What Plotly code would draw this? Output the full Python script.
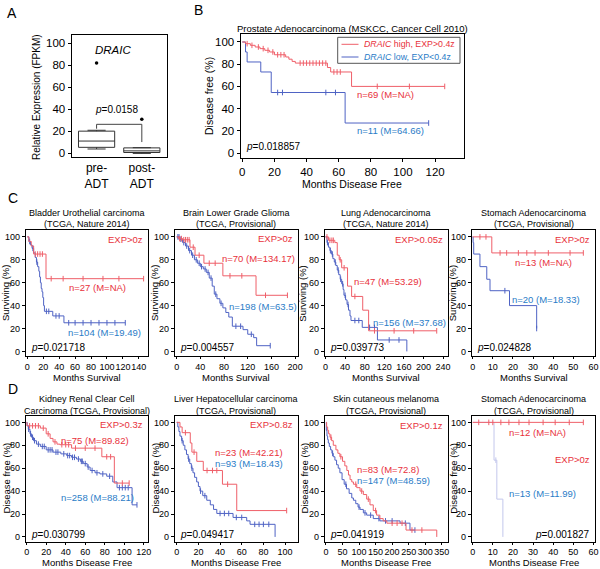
import plotly.graph_objects as go
import numpy as np

W, H = 600, 569
FONT = "Liberation Sans, Arial, sans-serif"
RED_LINE = "#ef5f69"
BLUE_LINE = "#4f63c4"
BLUE_PALE = "#c3c7ec"
RED_TXT = "#e8313b"
BLUE_TXT = "#2a7cc7"

# ---------------- Panel A: DRAIC expression (FPKM) ----------------
a_groups = ["pre-<br>ADT", "post-<br>ADT"]
a_lowerfence = [4.0, 0.0]
a_q1 = [5.5, 0.8]
a_median = [11.2, 2.3]
a_q3 = [20.2, 5.0]
a_upperfence = [21.0, 5.2]
a_outliers = [82.0, 31.0]
a_bracket_x = [0, 0, 1, 1]
a_bracket_y = [22.4, 26.4, 26.4, 10.3]

# ---------------- Panel B: Prostate (MSKCC) ----------------
b_hi_t = [0, 2, 5, 8, 11, 14, 17, 20, 27, 29, 31, 33, 53, 55, 68, 126]
b_hi_s = [100, 98.5, 97, 95.5, 94, 92.5, 91, 88.5, 86.5, 84.5, 82.5, 81, 77, 73, 60, 60]
b_hi_c = [3, 6, 10, 13, 16, 19, 22, 24, 26, 36, 38, 40, 42, 44, 46, 48, 50, 52, 57, 59, 61, 84, 104, 126]
b_lo_t = [0, 2, 3, 11.5, 18, 64, 116]
b_lo_s = [100, 91, 82, 73, 54.5, 27, 27]
b_lo_c = [22, 25, 52, 58, 116]

# ---------------- Panel C: overall survival ----------------
c1_hi_t = [0, 2, 5, 8, 23.5, 146]
c1_hi_s = [100, 96, 92, 85, 63.5, 63.5]
c1_hi_c = [10, 13, 16, 19, 30, 45, 70, 95, 115, 146]
c1_lo_t = [0, 2, 4, 6, 8, 10, 11.5, 13, 14.5, 15.5, 16.5, 17.5, 18.5, 19.5, 20.5, 21.5, 32, 46, 123]
c1_lo_s = [100, 96, 93, 90, 86, 82, 78, 74, 70, 65, 60, 55, 52, 47, 40, 35, 31, 25, 25]
c1_lo_c = [3, 7, 12, 24, 27, 36, 40, 52, 60, 70, 80, 90, 100, 110, 123]

c2_hi_t = [0, 3, 10, 22.5, 31, 46, 78, 134, 187]
c2_hi_s = [100, 98.5, 97.5, 91, 84, 77, 66, 49, 49]
c2_hi_c = [5, 8, 12, 15, 18, 21, 28, 38, 55, 65, 90, 110, 150, 187]
c2_lo_t = [0, 5, 10, 15, 20, 25, 30, 35, 40, 45, 50, 55, 60, 63.5, 68, 73, 78, 83, 88, 94, 112, 120, 130, 135, 158]
c2_lo_s = [100, 98, 95, 92, 88, 84, 80, 77, 74, 72, 69, 64, 57, 50, 46, 42, 38, 34, 30, 22, 19, 15, 12, 5, 5]
c2_lo_c = [2, 4, 7, 12, 17, 22, 27, 33, 38, 42, 48, 53, 58, 66, 75, 100, 108, 126, 158]

c3_hi_t = [0, 6, 19, 24, 28, 33, 45, 53.3, 76, 88, 227]
c3_hi_s = [100, 97, 95, 84, 80, 73, 57, 48, 36, 18, 18]
c3_hi_c = [3, 9, 13, 16, 30, 38, 60, 100, 140, 180, 227]
c3_lo_t = [0, 3, 6, 9, 12, 15, 18, 21, 24, 27, 30, 33, 36, 37.7, 41, 44, 47, 50, 52, 75, 106, 166]
c3_lo_s = [100, 95, 91, 88, 85, 81, 78, 75, 71, 67, 63, 59, 54, 49, 45, 41, 36, 31, 27, 21, 10, 0]
c3_lo_c = [4, 10, 14, 20, 26, 31, 35, 40, 46, 60, 68, 90, 100, 130, 150]

c4_hi_t = [0, 9.5, 55]
c4_hi_s = [100, 86, 86]
c4_hi_c = [3.6, 6.6, 13.6, 16.9, 22.7, 26.9, 31, 37.6, 48.4, 55]
c4_lo_t = [0, 0.2, 0.5, 3.6, 7, 8.6, 18.3, 31.8]
c4_lo_s = [100, 95, 85, 74, 63, 53, 40, 20]
c4_lo_c = [16, 31.8]

# ---------------- Panel D: disease-free survival ----------------
d1_hi_t = [0, 0.3, 14, 20, 24, 27, 31, 34, 46, 77, 89.8, 105]
d1_hi_s = [100, 97, 95, 90, 86, 83, 81, 80.5, 77.5, 70, 47, 47]
d1_hi_c = [3, 6, 9, 12, 17, 22, 29, 36, 40, 43, 50, 60, 70, 82, 86, 98, 105]
d1_lo_t = [0, 0.5, 1.7, 3.4, 5, 7, 10, 14, 20, 27, 35, 41, 46, 51, 55, 58, 62, 65, 70, 75, 82, 88.2, 92.6, 108, 113]
d1_lo_s = [100, 97, 94, 90, 87, 84, 81, 79, 76, 74, 72.5, 71, 69.5, 68, 66, 64, 61, 58, 56, 55, 53, 48, 43, 28, 28]
d1_lo_c = [2, 4, 6, 8, 12, 16, 18, 22, 24, 26, 30, 32, 38, 42, 44, 47, 49, 53, 56, 57, 60, 63, 67, 72, 78, 85, 95, 98, 101, 104, 113]

d2_hi_t = [0, 3, 5, 12.5, 14, 18.5, 24.5, 42.2, 55.4, 101.5]
d2_hi_s = [100, 96, 91, 82, 74, 66, 58, 46, 23, 23]
d2_hi_c = [8, 16, 28, 33, 37, 47, 101.5]
d2_lo_t = [0, 1, 2, 3, 4.5, 6, 7.5, 9, 10.5, 12, 13.5, 15, 16.5, 18.4, 20, 21.5, 24, 27.7, 31, 34, 37, 52, 64.6, 67.7, 90.8]
d2_lo_s = [100, 96, 92, 88, 84, 80, 76, 72, 68, 64, 60, 56, 52, 48, 44, 40, 36, 32, 28, 24, 20.5, 17, 14, 11, 0]
d2_lo_c = [5, 11, 14, 22, 26, 40, 44, 48, 55, 60, 72, 76, 80, 85]

d3_hi_t = [0, 2, 5, 8, 12, 17, 22, 30, 36, 42, 50, 57, 63, 68, 72.8, 78, 83, 93, 103, 113, 123, 133, 143, 153, 163, 173, 184, 242, 335]
d3_hi_s = [100, 96, 93, 90, 87, 84, 80, 76, 73, 70, 66, 62, 58, 54, 50, 48, 46, 43, 40, 37, 33, 28, 23, 19, 16, 14, 12, 6, 0]
d3_hi_c = [15, 45, 90, 108, 128, 150, 200, 215, 230, 260, 290]
d3_lo_t = [0, 1, 3, 5, 7, 10, 14, 18, 22, 27, 32, 37, 42, 48.6, 55, 62, 70, 78, 83, 90, 97, 103, 113, 123, 143, 163, 224, 254, 269]
d3_lo_s = [100, 93, 88, 85, 82, 79, 76, 73, 70, 67, 63, 60, 56, 50, 46, 42, 38, 34, 32, 29, 26, 24, 21, 19, 16, 14, 12, 6, 6]
d3_lo_c = [20, 60, 100, 118, 135, 160, 180, 200, 240, 269]

d4_hi_t = [0, 55]
d4_hi_s = [100, 100]
d4_hi_c = [3, 8, 10, 14, 18, 23, 28, 35, 41, 48, 55]
d4_lo_t = [0, 10.6, 12, 15]
d4_lo_s = [100, 67, 33, 0]
d4_lo_c = [11.5]


def xp(px):
    return px / W


def yp(py):
    return 1 - py / H


def surv_at(t, s, x):
    t = np.asarray(t, float)
    s = np.asarray(s, float)
    idx = np.searchsorted(t, np.asarray(x, float), side="right") - 1
    return s[np.clip(idx, 0, len(s) - 1)].tolist()


fig = go.Figure()
layout = dict(
    width=W, height=H, margin=dict(l=0, r=0, t=0, b=0),
    paper_bgcolor="white", plot_bgcolor="white", showlegend=False,
    font=dict(family=FONT, color="black"),
)
annotations = []
shapes = []


def axis_common(dom, rng, tickfont, ticks=True, ticklen=3):
    return dict(domain=dom, range=rng, showline=True, mirror=True, linecolor="black",
                linewidth=1.3, showgrid=False, zeroline=False,
                ticks="outside" if ticks else "", ticklen=ticklen, tickwidth=1, tickcolor="black",
                tickangle=0,
                tickfont=dict(size=tickfont, family=FONT, color="black"), automargin=False,
                fixedrange=True)


def text(x, y, s, size, color="black", xref="paper", yref="paper", xanchor="center",
         yanchor="middle", angle=0):
    annotations.append(dict(x=x, y=y, xref=xref, yref=yref, text=s, showarrow=False,
                            xanchor=xanchor, yanchor=yanchor, textangle=angle,
                            font=dict(size=size, color=color, family=FONT)))


# ---------------- Panel A ----------------
A = (71.7, 35, 166.7, 156.7)
layout["xaxis"] = axis_common([xp(A[0]), xp(A[2])], [-0.55, 1.55], 12, ticks=False)
layout["xaxis"].update(tickvals=[0, 1], ticktext=a_groups)
layout["yaxis"] = axis_common([yp(A[3]), yp(A[1])], [-3, 107.5], 11.5)
layout["yaxis"].update(tickvals=[0, 20, 40, 60, 80, 100])
for i in range(2):
    fig.add_trace(go.Box(x=[i], q1=[a_q1[i]], median=[a_median[i]], q3=[a_q3[i]],
                         lowerfence=[a_lowerfence[i]], upperfence=[a_upperfence[i]],
                         width=0.8, whiskerwidth=0.5, fillcolor="white",
                         line=dict(color="#333333", width=1), xaxis="x", yaxis="y",
                         hoverinfo="skip", boxpoints=False))
fig.add_trace(go.Scatter(x=[0, 1], y=a_outliers, mode="markers", xaxis="x", yaxis="y",
                         marker=dict(size=3.5, color="black"), hoverinfo="skip"))
fig.add_trace(go.Scatter(x=a_bracket_x, y=a_bracket_y, mode="lines", xaxis="x", yaxis="y",
                         line=dict(color="#444444", width=1), hoverinfo="skip"))
text(0.45, 39.5, "<i>p</i>=0.0158", 10, xref="x", yref="y")
text(0.36, 94, "<i>DRAIC</i>", 11.5, xref="x", yref="y")
text(xp(36), yp(97), "Relative Expression (FPKM)", 10, angle=-90)
text(xp(12), yp(12.5), "A", 14)

# ---------------- KM panels ----------------
COLS = [(26, 148), (175, 297.5), (325, 447.5), (472, 595)]
ROW_C = (230, 356)
ROW_D = (415.5, 541.5)
YR = [-4, 106]

panels = [
    dict(ax=2, frame=(240.7, 34, 464, 158), xr=[-1, 138], yr=[-4.5, 107.2], dt=20, tick=11.5,
         xtl=3, hi=(b_hi_t, b_hi_s, b_hi_c), lo=(b_lo_t, b_lo_s, b_lo_c), lo_col=BLUE_LINE,
         title=["Prostate Adenocarcinoma (MSKCC, Cancer Cell 2010)"], ty=[29], tsize=9.5,
         ylab="Disease free (%)", ylx=209, xlab="Months Disease Free", xly=183.5, labsize=10.5,
         nhi=("n=69 (M=NA)", 70, 52.8, "left"), nlo=("n=11 (M=64.66)", 70, 20, "left"),
         nsize=9.5, p=("0.018857", "left", 6), psize=10, exp=None),
]
ctitles = [["Bladder Urothelial carcinoma", "(TCGA, Nature 2014)"],
           ["Brain Lower Grade Glioma", "(TCGA, Provisional)"],
           ["Lung Adenocarcinoma", "(TCGA, Nature 2014)"],
           ["Stomach Adenocarcinoma", "(TCGA, Provisional)"]]
dtitles = [["Kidney Renal Clear Cell", "Carcinoma (TCGA, Provisional)"],
           ["Liver Hepatocellular carcinoma", "(TCGA, Provisional)"],
           ["Skin cutaneous melanoma", "(TCGA, Provisional)"],
           ["Stomach Adenocarcinoma", "(TCGA, Provisional)"]]
c_data = [((c1_hi_t, c1_hi_s, c1_hi_c), (c1_lo_t, c1_lo_s, c1_lo_c)),
          ((c2_hi_t, c2_hi_s, c2_hi_c), (c2_lo_t, c2_lo_s, c2_lo_c)),
          ((c3_hi_t, c3_hi_s, c3_hi_c), (c3_lo_t, c3_lo_s, c3_lo_c)),
          ((c4_hi_t, c4_hi_s, c4_hi_c), (c4_lo_t, c4_lo_s, c4_lo_c))]
d_data = [((d1_hi_t, d1_hi_s, d1_hi_c), (d1_lo_t, d1_lo_s, d1_lo_c)),
          ((d2_hi_t, d2_hi_s, d2_hi_c), (d2_lo_t, d2_lo_s, d2_lo_c)),
          ((d3_hi_t, d3_hi_s, d3_hi_c), (d3_lo_t, d3_lo_s, d3_lo_c)),
          ((d4_hi_t, d4_hi_s, d4_hi_c), (d4_lo_t, d4_lo_s, d4_lo_c))]
c_xr = [[-1.6, 151.5], [-2.8, 204], [-1, 249], [-0.35, 60.8]]
d_xr = [[-0.7, 124.3], [-1.6, 111.5], [-3, 367.5], [-0.35, 60.8]]
c_dt = [20, 40, 40, 10]
d_dt = [20, 20, 50, 10]
c_ylx = [6, 155, 302.7, 453.3]
d_ylx = [6, 155, 304, 453.3]
c_exp = ["EXP&gt;0z", "EXP&gt;0z", "EXP&gt;0.05z", "EXP&gt;0z"]
d_exp = ["EXP&gt;0.3z", "EXP&gt;0.8z", "EXP&gt;0.1z", "EXP&gt;0z"]
c_exp_y = [97.7, 98.5, 98, 98]
d_exp_y = [98, 98, 97.7, 68]
c_nhi = [("n=27 (M=NA)", 88, 56, "center"), ("n=70 (M=134.17)", 73, 81, "left"),
         ("n=47 (M=53.29)", 55, 61, "left"), ("n=13 (M=NA)", 20.2, 78, "left")]
c_nlo = [("n=104 (M=19.49)", 96.5, 16.5, "center"), ("n=198 (M=63.5)", 85, 39, "left"),
         ("n=156 (M=37.68)", 93, 25, "left"), ("n=20 (M=18.33)", 18.6, 45.5, "left")]
d_nhi = [("n=75 (M=89.82)", 32.6, 84, "left"), ("n=23 (M=42.21)", 33.8, 74, "left"),
         ("n=83 (M=72.8)", 87.8, 59, "left"), ("n=12 (M=NA)", 16.9, 91, "left")]
d_nlo = [("n=258 (M=88.21)", 32.6, 34.8, "left"), ("n=93 (M=18.43)", 33.8, 64, "left"),
         ("n=147 (M=48.59)", 87.8, 49, "left"), ("n=13 (M=11.99)", 16.9, 37.6, "left")]
c_p = ["0.021718", "0.004557", "0.039773", "0.024828"]
d_p = ["0.030799", "0.049417", "0.041919", "0.001827"]

for j in range(4):
    panels.append(dict(ax=3 + j, frame=(COLS[j][0], ROW_C[0], COLS[j][1], ROW_C[1]),
                       xr=c_xr[j], yr=YR, dt=c_dt[j], tick=9, xtl=2,
                       hi=c_data[j][0], lo=c_data[j][1], lo_col=BLUE_LINE,
                       title=ctitles[j], ty=[212.5, 223.5], tsize=9,
                       ylab="Surviving (%)", ylx=c_ylx[j], xlab="Months Survival", xly=377.5,
                       labsize=9.5, nhi=c_nhi[j], nlo=c_nlo[j], nsize=9.5,
                       p=(c_p[j], "left", 3.5), psize=10, exp=(c_exp[j], c_exp_y[j])))
for j in range(4):
    panels.append(dict(ax=7 + j, frame=(COLS[j][0], ROW_D[0], COLS[j][1], ROW_D[1]),
                       xr=d_xr[j], yr=YR, dt=d_dt[j], tick=9, xtl=2,
                       hi=d_data[j][0], lo=d_data[j][1],
                       lo_col=BLUE_PALE if j == 3 else BLUE_LINE,
                       title=dtitles[j], ty=[398.5, 410.7], tsize=9,
                       ylab="Disease free (%)", ylx=d_ylx[j], xlab="Months Disease Free", xly=562.5,
                       labsize=9.5, nhi=d_nhi[j], nlo=d_nlo[j], nsize=9.5,
                       p=(d_p[j], "right" if j == 3 else "left", 2.5), psize=10,
                       exp=(d_exp[j], d_exp_y[j])))

for P in panels:
    k = P["ax"]
    xa, ya = "x%d" % k, "y%d" % k
    L, T, R, B = P["frame"]
    xmax = P["xr"][1]
    xticks = list(np.arange(0, xmax + 1e-9, P["dt"]))
    xticks = [t for t in xticks if t <= xmax - 0.5]
    layout["xaxis%d" % k] = axis_common([xp(L), xp(R)], P["xr"], P["tick"], ticklen=P["xtl"])
    layout["xaxis%d" % k].update(tickvals=xticks, ticktext=["%g" % t for t in xticks], anchor=ya)
    layout["yaxis%d" % k] = axis_common([yp(B), yp(T)], P["yr"], P["tick"])
    layout["yaxis%d" % k].update(tickvals=[0, 20, 40, 60, 80, 100], anchor=xa)
    for (t, s, c), col in ((P["lo"], P["lo_col"]), (P["hi"], RED_LINE)):
        fig.add_trace(go.Scatter(x=t, y=s, mode="lines", line=dict(color=col, width=1, shape="hv"),
                                 xaxis=xa, yaxis=ya, hoverinfo="skip"))
        fig.add_trace(go.Scatter(x=c, y=surv_at(t, s, c), mode="markers", xaxis=xa, yaxis=ya,
                                 marker=dict(symbol="line-ns", size=4,
                                             line=dict(color=col, width=1)),
                                 hoverinfo="skip"))
    cx = (L + R) / 2
    for line, y in zip(P["title"], P["ty"]):
        text(xp(cx), yp(y), line, P["tsize"])
    text(xp(P["ylx"]), yp((T + B) / 2), P["ylab"], P["labsize"], angle=-90)
    text(xp(cx), yp(P["xly"]), P["xlab"], P["labsize"])
    for (s, x, y, anc), col in ((P["nhi"], RED_TXT), (P["nlo"], BLUE_TXT)):
        text(x, y, s, P["nsize"], color=col, xref=xa, yref=ya, xanchor=anc)
    pv, side, py = P["p"]
    if side == "left":
        text(xp(L + 3), py, "<i>p</i>=" + pv, P["psize"], xref="paper", yref=ya, xanchor="left")
    else:
        text(xp(R - 3), py, "<i>p</i>=" + pv, P["psize"], xref="paper", yref=ya, xanchor="right")
    if P["exp"]:
        text(xp(R - 3), P["exp"][1], P["exp"][0], 9.5, color=RED_TXT, xref="paper", yref=ya,
             xanchor="right")

# Legend for panel B (drawn box)
shapes.append(dict(type="rect", xref="paper", yref="paper", x0=xp(337.7), x1=xp(460),
                   y0=yp(63.3), y1=yp(37.3), line=dict(color="#555555", width=1),
                   fillcolor="white"))
shapes.append(dict(type="line", xref="paper", yref="paper", x0=xp(341.5), x1=xp(358.5),
                   y0=yp(44.3), y1=yp(44.3), line=dict(color=RED_LINE, width=1)))
shapes.append(dict(type="line", xref="paper", yref="paper", x0=xp(341.5), x1=xp(358.5),
                   y0=yp(57), y1=yp(57), line=dict(color=BLUE_LINE, width=1)))
text(xp(361.5), yp(44.3), "<i>DRAIC</i> high, EXP&gt;0.4z", 8.8, color=RED_TXT, xanchor="left")
text(xp(361.5), yp(57), "<i>DRAIC</i> low, EXP&lt;0.4z", 8.8, color=BLUE_TXT, xanchor="left")

text(xp(198), yp(10), "B", 14)
text(xp(13), yp(198), "C", 14)
text(xp(13), yp(389), "D", 14)

layout["annotations"] = annotations
layout["shapes"] = shapes
fig.update_layout(**layout)
fig.write_html("out.html", config={"displayModeBar": False},
               post_script="document.body.style.margin='0px';document.body.style.overflow='hidden';")
